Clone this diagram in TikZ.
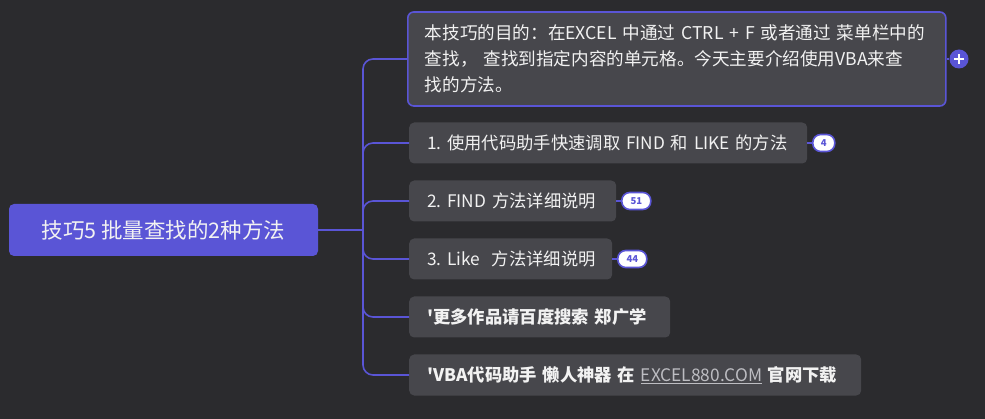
\documentclass[tikz,border=0pt]{standalone}
\usepackage{fontspec}
\setmainfont{Noto Sans CJK SC}
\newfontfamily\rawfont{Noto Sans CJK SC}[Ligatures=TeXOff]
\definecolor{bg}{HTML}{2B2B2E}
\definecolor{boxc}{HTML}{47474C}
\definecolor{purp}{HTML}{5A55D6}
\definecolor{txt}{HTML}{F2F2F2}
\definecolor{linkc}{HTML}{BDBDC2}
\newcommand{\apos}{{\rawfont\bfseries '}}
\begin{document}
\frenchspacing
\begin{tikzpicture}[x=1pt,y=-1pt,
  rootbox/.style={fill=purp, rounded corners=5pt, minimum width=309pt, minimum height=52pt, text=txt, font=\fontsize{21.5}{24}\selectfont, inner sep=0pt},
  childbox/.style={fill=boxc, rounded corners=5pt, anchor=west, minimum height=41pt, text=txt, font=\fontsize{17.3}{20}\selectfont, inner xsep=18pt, inner ysep=0pt, align=left},
  badge/.style={fill=white, draw=purp, line width=1.6pt, rounded corners=8pt, minimum height=17pt, inner xsep=4pt, inner ysep=0pt, font=\bfseries\fontsize{9.5}{10}\selectfont, text=purp, anchor=west},
  conn/.style={draw=purp, line width=1.6pt},
  branch/.style={conn, rounded corners=10pt}
]
\fill[bg] (0,0) rectangle (985,419);
\useasboundingbox (0,0) rectangle (985,419);

\node[rootbox] (root) at (163.5,230) {技巧5 批量查找的2种方法};

\node[childbox, draw=purp, line width=1.6pt, rounded corners=6pt, minimum height=94pt, text width=504pt, inner xsep=17pt, font=\fontsize{17.6}{26}\selectfont] (c1) at (407,59)
  {\mbox{本技巧的目的：在EXCEL 中通过 CTRL + F 或者通过 菜单栏中的}\\
   \mbox{查找， 查找到指定内容的单元格。今天主要介绍使用VBA来查}\\
   \mbox{找的方法。}};
\node[childbox, text width=362pt] (c2) at (409,143) {\mbox{1. 使用代码助手快速调取 FIND 和 LIKE 的方法}};
\node[childbox, text width=171pt] (c3) at (409,201) {\mbox{2. FIND 方法详细说明}};
\node[childbox, text width=167pt] (c4) at (409,259) {\mbox{3. Like\ \ 方法详细说明}};
\node[childbox, text width=225pt, font=\bfseries\fontsize{17.3}{20}\selectfont] (c5) at (409,317) {\mbox{\apos 更多作品请百度搜索 郑广学}};
\node[childbox, text width=416pt, font=\bfseries\fontsize{17.3}{20}\selectfont] (c6) at (409,375) {\mbox{\apos VBA代码助手 懒人神器 在 {\mdseries\color{linkc}\underline{EXCEL880.COM}} 官网下载}};

\node[circle, fill=purp, minimum size=19pt, inner sep=0pt,
  path picture={\draw[white, line width=1.8pt] ([xshift=-5pt]path picture bounding box.center) -- ([xshift=5pt]path picture bounding box.center);
                \draw[white, line width=1.8pt] ([yshift=-5pt]path picture bounding box.center) -- ([yshift=5pt]path picture bounding box.center);}] (plus) at (959,59) {};
\node[badge, minimum width=22pt] (b2) at (812,143) {4};
\node[badge, minimum width=29pt] (b3) at (621,201) {51};
\node[badge, minimum width=29pt] (b4) at (617,259) {44};

\coordinate (trunk) at (363,230);
\draw[conn] (root.east) -- (trunk);
\foreach \c in {c1,c2,c3,c4,c5,c6} {
  \draw[branch] (trunk) |- (\c.west);
}
\draw[conn] (c1.east) -- (plus.west);
\draw[conn] (c2.east) -- (b2.west);
\draw[conn] (c3.east) -- (b3.west);
\draw[conn] (c4.east) -- (b4.west);
\end{tikzpicture}
\end{document}
